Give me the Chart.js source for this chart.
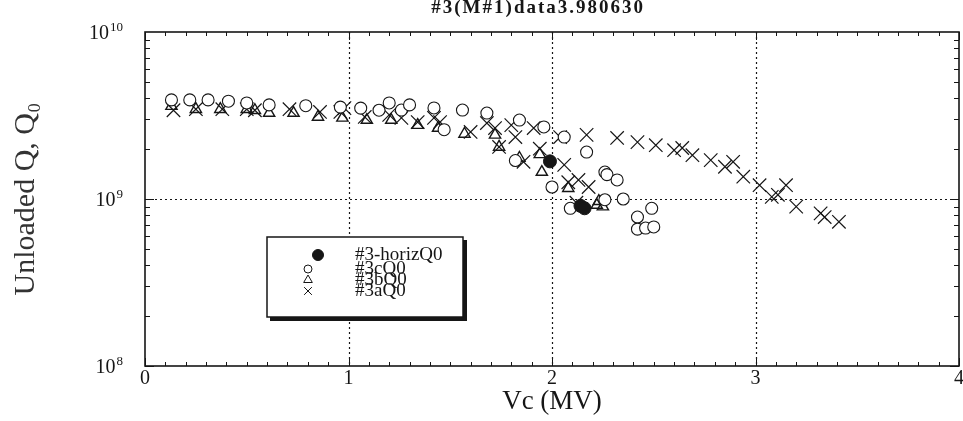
<!DOCTYPE html>
<html>
<head>
<meta charset="utf-8">
<script src="https://cdn.jsdelivr.net/npm/chart.js@4.4.1/dist/chart.umd.min.js"></script>
<style>
html, body { margin: 0; padding: 0; background: #fff; overflow: hidden; }
canvas { display: block; }
</style>
</head>
<body>
<canvas id="qChart" width="963" height="421"></canvas>
<script>
const chartTitle = '#3(M#1)data3.980630';
const xTicks = [0, 1, 2, 3, 4];
const xTickLabels = ['0', '1', '2', '3', '4'];
const yTicks = [1e8, 1e9, 1e10];
const yTickBase = '10';
const yTickExp = ['8', '9', '10'];

// #3-horizQ0
const horizV = [1.99, 2.14, 2.16];
const horizQ = [1.68e9, 0.91e9, 0.88e9];

// #3cQ0
const cV = [0.13, 0.22, 0.31, 0.41, 0.50, 0.61, 0.79, 0.96, 1.06, 1.15,
            1.20, 1.26, 1.30, 1.42, 1.47, 1.56, 1.68, 1.82, 1.84, 1.96,
            2.00, 2.06, 2.09, 2.17, 2.26, 2.27, 2.32, 2.26, 2.35, 2.42,
            2.42, 2.46, 2.49, 2.50];
const cQ = [3.92e9, 3.92e9, 3.92e9, 3.85e9, 3.76e9, 3.66e9, 3.62e9, 3.55e9, 3.5e9, 3.4e9,
            3.76e9, 3.41e9, 3.66e9, 3.51e9, 2.6e9, 3.41e9, 3.27e9, 1.7e9, 2.97e9, 2.70e9,
            1.18e9, 2.35e9, 0.88e9, 1.91e9, 1.45e9, 1.40e9, 1.30e9, 0.99e9, 1.0e9, 0.78e9,
            0.66e9, 0.67e9, 0.88e9, 0.68e9];

// #3bQ0
const bV = [0.13, 0.25, 0.37, 0.50, 0.54, 0.61, 0.73, 0.85, 0.97, 1.09,
            1.21, 1.34, 1.44, 1.57, 1.72, 1.74, 1.84, 1.94, 1.95, 2.08,
            2.22, 2.23, 2.25];
const bQ = [3.6e9, 3.45e9, 3.45e9, 3.45e9, 3.4e9, 3.27e9, 3.27e9, 3.10e9, 3.06e9, 2.97e9,
            2.97e9, 2.77e9, 2.66e9, 2.45e9, 2.42e9, 2.05e9, 1.76e9, 1.85e9, 1.45e9, 1.16e9,
            0.92e9, 0.97e9, 0.90e9];

// #3aQ0
const aV = [0.14, 0.25, 0.38, 0.50, 0.54, 0.71, 0.86, 0.96, 0.98, 1.08,
            1.20, 1.26, 1.34, 1.42, 1.45, 1.60, 1.68, 1.72, 1.74, 1.80,
            1.82, 1.86, 1.91, 1.94, 2.04, 2.06, 2.08, 2.12, 2.13, 2.17,
            2.18, 2.32, 2.42, 2.51, 2.60, 2.64, 2.69, 2.78, 2.85, 2.89,
            2.94, 3.02, 3.08, 3.11, 3.15, 3.20, 3.32, 3.34, 3.41];
const aQ = [3.4e9, 3.45e9, 3.45e9, 3.45e9, 3.4e9, 3.45e9, 3.32e9, 3.32e9, 3.5e9, 3.1e9,
            3.19e9, 3.06e9, 2.89e9, 3.06e9, 2.89e9, 2.52e9, 2.85e9, 2.66e9, 2.05e9, 2.77e9,
            2.35e9, 1.67e9, 2.66e9, 2.0e9, 2.35e9, 1.60e9, 1.26e9, 0.95e9, 1.30e9, 2.42e9,
            1.18e9, 2.32e9, 2.19e9, 2.10e9, 1.96e9, 2.02e9, 1.83e9, 1.71e9, 1.56e9, 1.67e9,
            1.36e9, 1.21e9, 1.03e9, 1.06e9, 1.21e9, 0.90e9, 0.82e9, 0.78e9, 0.73e9];

const serif = '"Liberation Serif", "Times New Roman", serif';
const ink = '#161616';

const pts = (xs, ys) => xs.map((v, i) => ({ x: v, y: ys[i] }));

// dotted grid, inward ticks, frame, title and tick labels
const frame = {
    id: 'frame',
    beforeDatasetsDraw(chart) {
        const { ctx, chartArea: a, scales: { x, y } } = chart;
        ctx.save();
        ctx.strokeStyle = ink;
        ctx.lineWidth = 1.2;
        ctx.setLineDash([2, 3]);
        ctx.beginPath();
        xTicks.slice(1, -1).forEach(v => {
            const px = Math.round(x.getPixelForValue(v)) + 0.5;
            ctx.moveTo(px, a.top); ctx.lineTo(px, a.bottom);
        });
        yTicks.slice(1, -1).forEach(v => {
            const py = Math.round(y.getPixelForValue(v)) + 0.5;
            ctx.moveTo(a.left, py); ctx.lineTo(a.right, py);
        });
        ctx.stroke();
        ctx.setLineDash([]);

        ctx.lineWidth = 1;
        ctx.beginPath();
        for (let i = 0; i <= 40; i++) {
            const px = Math.round(x.getPixelForValue(i / 10)) + 0.5;
            const len = i % 10 === 0 ? 8 : 4;
            ctx.moveTo(px, a.bottom); ctx.lineTo(px, a.bottom - len);
            ctx.moveTo(px, a.top); ctx.lineTo(px, a.top + len);
        }
        yTicks.slice(0, -1).forEach(d => {
            for (let m = 1; m <= 9; m++) {
                const py = Math.round(y.getPixelForValue(m * d)) + 0.5;
                const len = m === 1 ? 9 : 5;
                ctx.moveTo(a.left, py); ctx.lineTo(a.left + len, py);
                ctx.moveTo(a.right, py); ctx.lineTo(a.right - len, py);
            }
        });
        ctx.stroke();

        ctx.lineWidth = 1.6;
        ctx.strokeRect(a.left, a.top, a.width, a.height);

        ctx.fillStyle = ink;
        ctx.textBaseline = 'alphabetic';
        ctx.font = 'bold 19px ' + serif;
        ctx.textAlign = 'center';
        ctx.letterSpacing = '2px';
        ctx.fillText(chartTitle, a.left + a.width * 0.483, 13);
        ctx.letterSpacing = '0px';

        // x labels
        ctx.font = '20px ' + serif;
        ctx.textBaseline = 'top';
        xTicks.forEach((v, i) => {
            ctx.fillText(xTickLabels[i], x.getPixelForValue(v), a.bottom + 3);
        });

        // y labels: 10 with raised exponent
        ctx.textBaseline = 'alphabetic';
        const right = a.left - 22;
        yTicks.forEach((v, i) => {
            const py = y.getPixelForValue(v);
            ctx.font = '13px ' + serif;
            ctx.textAlign = 'right';
            const ew = ctx.measureText(yTickExp[i]).width;
            ctx.fillText(yTickExp[i], right, py - 1);
            ctx.font = '20px ' + serif;
            ctx.fillText(yTickBase, right - ew - 1, py + 7);
        });
        ctx.restore();
    }
};

// boxed legend with a drop shadow, inside the plot
const boxLegend = {
    id: 'boxLegend',
    afterDatasetsDraw(chart) {
        const { ctx, chartArea: a } = chart;
        const bx = a.left + 122, by = a.top + 205, bw = 196, bh = 80;
        ctx.save();
        ctx.fillStyle = '#fff';
        ctx.fillRect(bx, by, bw, bh);
        ctx.fillStyle = ink;
        ctx.fillRect(bx + 3, by + bh, bw + 1, 4);
        ctx.fillRect(bx + bw, by + 3, 4, bh + 1);
        ctx.strokeStyle = ink;
        ctx.lineWidth = 1.5;
        ctx.strokeRect(bx, by, bw, bh);

        const rows = [18, 32, 43, 54];
        const markX = [51, 41, 41, 41];
        const legendRadius = [5.5, 4, 5, 5.5];
        ctx.font = '19px ' + serif;
        ctx.textBaseline = 'middle';
        ctx.textAlign = 'left';
        chart.data.datasets.forEach((ds, i) => {
            ctx.fillStyle = ds.backgroundColor;
            ctx.strokeStyle = ds.borderColor;
            ctx.lineWidth = 1;
            Chart.helpers.drawPoint(ctx, {
                pointStyle: ds.pointStyle, radius: legendRadius[i], rotation: 0, borderWidth: 1
            }, bx + markX[i], by + rows[i]);
            ctx.fillStyle = ink;
            ctx.fillText(ds.label, bx + 88, by + rows[i]);
        });
        ctx.restore();
    }
};

const ctx = document.getElementById('qChart').getContext('2d');
new Chart(ctx, {
    type: 'scatter',
    data: {
        datasets: [{
            label: '#3-horizQ0',
            data: pts(horizV, horizQ),
            pointStyle: 'circle',
            pointRadius: 6.5,
            backgroundColor: ink,
            borderColor: ink,
            borderWidth: 1
        }, {
            label: '#3cQ0',
            data: pts(cV, cQ),
            pointStyle: 'circle',
            pointRadius: 6,
            backgroundColor: '#ffffff',
            borderColor: ink,
            borderWidth: 1.1
        }, {
            label: '#3bQ0',
            data: pts(bV, bQ),
            pointStyle: 'triangle',
            pointRadius: 6.5,
            backgroundColor: 'rgba(255,255,255,0)',
            borderColor: ink,
            borderWidth: 1.4
        }, {
            label: '#3aQ0',
            data: pts(aV, aQ),
            pointStyle: 'crossRot',
            pointRadius: 9.5,
            backgroundColor: ink,
            borderColor: ink,
            borderWidth: 1.2
        }]
    },
    options: {
        responsive: false,
        animation: false,
        devicePixelRatio: 1,
        layout: { autoPadding: false, padding: { left: 0, right: 4, top: 32, bottom: 0 } },
        plugins: {
            legend: { display: false },
            tooltip: { enabled: false },
            title: { display: false }
        },
        scales: {
            x: {
                type: 'linear',
                min: 0,
                max: 4,
                grid: { display: false, drawTicks: false },
                border: { display: false },
                ticks: { display: false, stepSize: 1 },
                title: {
                    display: true,
                    text: 'Vc (MV)',
                    color: ink,
                    font: { family: serif, size: 27 },
                    padding: { top: 3, bottom: 3 }
                },
                afterFit(s) {
                    s.height = 55;
                    s.paddingLeft = 0;
                    s.paddingRight = 0;
                }
            },
            y: {
                type: 'logarithmic',
                min: 1e8,
                max: 1e10,
                grid: { display: false, drawTicks: false },
                border: { display: false },
                afterBuildTicks(s) {
                    s.ticks = yTicks.map(v => ({ value: v, major: true }));
                },
                ticks: { display: false },
                title: {
                    display: true,
                    text: 'Unloaded Q, Q₀',
                    color: '#333',
                    font: { family: serif, size: 30 },
                    padding: { top: 8, bottom: 0 }
                },
                afterFit(s) {
                    s.width = 145;
                    s.paddingTop = 0;
                    s.paddingBottom = 0;
                }
            }
        }
    },
    plugins: [frame, boxLegend]
});
</script>
</body>
</html>
